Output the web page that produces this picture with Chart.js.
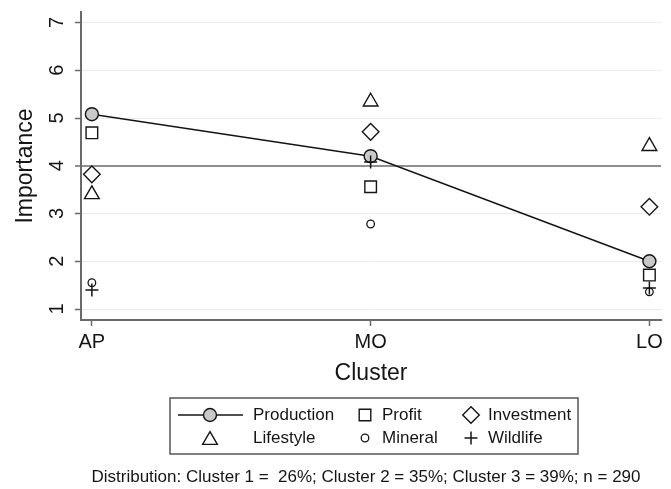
<!DOCTYPE html>
<html>
<head>
<meta charset="utf-8">
<script src="https://cdn.jsdelivr.net/npm/chart.js@4.4.0/dist/chart.umd.min.js"></script>
<style>
html,body{margin:0;padding:0;background:#fff;}
#wrap{width:671px;height:489px;}
</style>
</head>
<body>
<div id="wrap"><canvas id="c" width="671" height="489"></canvas></div>
<script>
// ---- data ----
const categories = ['AP', 'MO', 'LO'];
const yTickValues = [1, 2, 3, 4, 5, 6, 7];
const referenceValue = 4;
const production = [5.08, 4.20, 2.00];
const profit     = [4.69, 3.56, 1.71];
const investment = [3.82, 4.71, 3.14];
const lifestyle  = [3.40, 5.34, 4.41];
const mineral    = [1.55, 2.78, 1.36];
const wildlife   = [1.40, 4.08, 1.44];
const seriesNames = ['Production', 'Profit', 'Investment', 'Lifestyle', 'Mineral', 'Wildlife'];
const xTitle = 'Cluster';
const yTitle = 'Importance';
const footnote = 'Distribution: Cluster 1 =  26%; Cluster 2 = 35%; Cluster 3 = 39%; n = 290';

// ---- styles ----
const FONT = '"Liberation Sans", Arial, Helvetica, sans-serif';
const INK = '#151515';
const AXIS = '#6a6a6a';
const NONE = 'rgba(0,0,0,0)';

function pts(arr) { return arr.map((v, i) => ({ x: i, y: v })); }

function markerSet(label, values, style, radius, order, extra) {
  return Object.assign({
    label: label,
    data: pts(values),
    showLine: false,
    pointStyle: style,
    pointRadius: radius,
    pointHoverRadius: radius,
    pointBackgroundColor: NONE,
    pointBorderColor: INK,
    pointBorderWidth: 1.4,
    borderColor: INK,
    backgroundColor: NONE,
    order: order
  }, extra || {});
}

const datasets = [
  markerSet(seriesNames[0], production, 'circle', 6.5, 6, {
    showLine: true, borderColor: INK, borderWidth: 1.5,
    pointBackgroundColor: '#c9c9c9', tension: 0
  }),
  markerSet(seriesNames[1], profit, 'rect', 8.2, 5),
  markerSet(seriesNames[2], investment, 'rectRot', 8.3, 4),
  markerSet(seriesNames[3], lifestyle, 'triangle', 8.5, 3),
  markerSet(seriesNames[4], mineral, 'circle', 3.8, 2, { pointBorderWidth: 1.3 }),
  markerSet(seriesNames[5], wildlife, 'cross', 6.5, 1, { pointBorderWidth: 1.5 })
];

// ---- custom Stata-like legend box + footnote ----
const stataLegend = {
  id: 'stataLegend',
  afterDraw(chart) {
    const ctx = chart.ctx;
    const box = { l: 170, t: 398, r: 578, b: 454 };
    const colMarker = [210, 365, 471];
    const colText = [253, 382, 488];
    const rowY = [415, 438];
    ctx.save();
    ctx.strokeStyle = '#555';
    ctx.lineWidth = 1.5;
    ctx.strokeRect(box.l, box.t, box.r - box.l, box.b - box.t);
    chart.data.datasets.forEach((ds, i) => {
      const row = Math.floor(i / 3), col = i % 3;
      const mx = colMarker[col];
      const y = rowY[row];
      if (ds.showLine) {
        ctx.beginPath();
        ctx.strokeStyle = ds.borderColor;
        ctx.lineWidth = ds.borderWidth;
        ctx.moveTo(178, y);
        ctx.lineTo(243, y);
        ctx.stroke();
      }
      ctx.fillStyle = ds.pointBackgroundColor;
      ctx.strokeStyle = ds.pointBorderColor;
      ctx.lineWidth = ds.pointBorderWidth;
      let my = y;
      if (ds.pointStyle === 'triangle') my = y + ds.pointRadius / 4;
      Chart.helpers.drawPoint(ctx, {
        pointStyle: ds.pointStyle, radius: ds.pointRadius,
        borderWidth: ds.pointBorderWidth, rotation: 0
      }, mx, my);
      ctx.fillStyle = INK;
      ctx.font = '17px ' + FONT;
      ctx.textAlign = 'left';
      ctx.textBaseline = 'middle';
      ctx.fillText(ds.label, colText[col], y);
    });
    ctx.font = '17px ' + FONT;
    ctx.fillStyle = INK;
    ctx.textAlign = 'center';
    ctx.textBaseline = 'middle';
    ctx.fillText(footnote, 366, 477);
    ctx.restore();
  }
};

const isRef = (c) => c.tick && c.tick.value === referenceValue;

new Chart(document.getElementById('c'), {
  type: 'line',
  data: { datasets: datasets },
  plugins: [stataLegend],
  options: {
    responsive: false,
    animation: false,
    devicePixelRatio: 1,
    layout: { padding: { left: 0, right: 2, top: 12, bottom: 99 } },
    plugins: {
      legend: { display: false },
      tooltip: { enabled: false },
      title: { display: false }
    },
    scales: {
      x: {
        type: 'linear',
        min: -0.039,
        max: 2.042,
        afterBuildTicks: (s) => { s.ticks = categories.map((c, i) => ({ value: i })); },
        afterFit: (s) => { s.height = 70; s.paddingLeft = 0; s.paddingRight = 0; },
        ticks: {
          callback: (v, i) => categories[i],
          autoSkip: false, minRotation: 0, maxRotation: 0,
          padding: 4, color: INK,
          font: { family: FONT, size: 20 }
        },
        grid: {
          drawOnChartArea: false, drawTicks: true,
          tickLength: 6, tickColor: AXIS, tickWidth: 1.5
        },
        border: { display: true, color: AXIS, width: 2 },
        title: {
          display: true, text: xTitle, color: INK,
          font: { family: FONT, size: 23 },
          padding: { top: 0, bottom: 3 }
        }
      },
      y: {
        type: 'linear',
        min: 0.77,
        max: 7.22,
        afterBuildTicks: (s) => { s.ticks = yTickValues.map(v => ({ value: v })); },
        afterFit: (s) => { s.width = 81; s.paddingTop = 0; s.paddingBottom = 0; },
        ticks: {
          minRotation: 90, maxRotation: 90, crossAlign: 'center',
          padding: 11.5, color: INK,
          font: { family: FONT, size: 20 }
        },
        grid: {
          color: (c) => isRef(c) ? '#8f8f8f' : '#ebebeb',
          lineWidth: (c) => isRef(c) ? 2 : 1,
          drawTicks: true, tickLength: 6, tickColor: AXIS, tickWidth: 1.5
        },
        border: { display: true, color: AXIS, width: 2 },
        title: {
          display: true, text: yTitle, color: INK,
          font: { family: FONT, size: 23 },
          padding: { top: 12, bottom: 0 }
        }
      }
    }
  }
});
</script>
</body>
</html>
